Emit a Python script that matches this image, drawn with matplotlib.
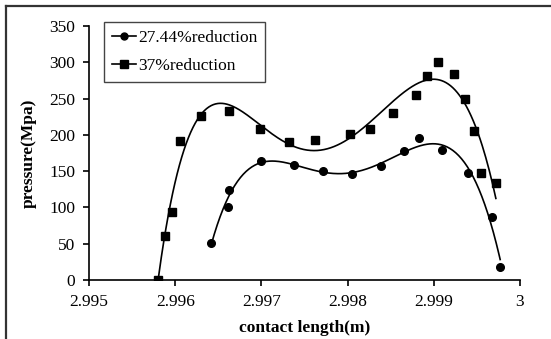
import numpy as np
import matplotlib
matplotlib.use('Agg')
import matplotlib.pyplot as plt
from matplotlib.lines import Line2D
from matplotlib.ticker import FuncFormatter

# contact length (m) and pressure (MPa) for the two reductions
len_27 = [2.99642, 2.99661, 2.99662, 2.99700, 2.99738, 2.99771, 2.99805,
          2.99839, 2.99865, 2.99883, 2.99909, 2.99940, 2.99968, 2.99977]
p_27 = [51, 101, 124, 164, 158, 150, 146, 157, 178, 195, 179, 147, 87, 18]

len_37 = [2.99580, 2.99588, 2.99596, 2.99606, 2.99630, 2.99662, 2.99698,
          2.99732, 2.99762, 2.99803, 2.99826, 2.99853, 2.99879, 2.99892,
          2.99905, 2.99923, 2.99936, 2.99947, 2.99955, 2.99972]
p_37 = [0, 61, 94, 191, 226, 233, 208, 190, 193, 201, 208, 230, 255, 281,
        301, 284, 249, 206, 148, 134]

labels = ['27.44%reduction', '37%reduction']
x_ticks = [2.995, 2.996, 2.997, 2.998, 2.999, 3.0]
y_ticks = [0, 50, 100, 150, 200, 250, 300, 350]

plt.rcParams['font.family'] = ['Liberation Serif', 'DejaVu Serif']

W, H = 551, 339
fig = plt.figure(figsize=(W / 100, H / 100), dpi=100)
ax = fig.add_axes([89 / W, 1 - 280 / H, (520 - 89) / W, (280 - 26) / H])


def trend(x, y, order=6):
    # polynomial trendline over the range of the data
    x = np.asarray(x)
    u = (x - 2.998) * 1000
    coef = np.polyfit(u, y, order)
    uu = np.linspace(u.min(), u.max(), 300)
    return uu / 1000 + 2.998, np.polyval(coef, uu)


handles = []
for xs, ys, m, ms, lab in [(len_27, p_27, 'o', 5.5, labels[0]),
                           (len_37, p_37, 's', 6, labels[1])]:
    tx, ty = trend(xs, ys)
    ax.plot(tx, ty, color='black', linewidth=1.2)
    ax.plot(xs, ys, linestyle='none', marker=m, markersize=ms, color='black')
    handles.append(Line2D([], [], color='black', linewidth=1.2, marker=m,
                          markersize=ms - 0.5, label=lab))

ax.set_xlim(2.995, 3.0)
ax.set_ylim(0, 350)
ax.set_xticks(x_ticks)
ax.set_yticks(y_ticks)
ax.xaxis.set_major_formatter(FuncFormatter(lambda v, p: f'{v:g}'))
for s in ['top', 'right']:
    ax.spines[s].set_visible(False)
for s in ['left', 'bottom']:
    ax.spines[s].set_linewidth(1.2)
ax.tick_params(direction='out', length=4, width=1.2, labelsize=12.5,
               colors='black', pad=6)
ax.set_xlabel('contact length(m)', fontsize=12.5, fontweight='bold', labelpad=7)
ax.set_ylabel('pressure(Mpa)', fontsize=12.5, fontweight='bold', labelpad=9)

leg = ax.legend(handles=handles, loc='upper left',
                bbox_to_anchor=(104 / W, 1 - 22 / H),
                bbox_transform=fig.transFigure, fontsize=12.5,
                fancybox=False, edgecolor='#444444', framealpha=1,
                handlelength=1.4, handletextpad=0.1, borderpad=0.45,
                labelspacing=0.7, borderaxespad=0)
leg.get_frame().set_linewidth(1.0)

# chart border
fig.add_artist(Line2D([6 / W, 6 / W], [0, 1 - 6 / H], color='#333333', lw=1.6))
fig.add_artist(Line2D([6 / W, 1], [1 - 6 / H, 1 - 6 / H], color='#333333', lw=1.6))

fig.savefig('out.png', dpi=100)
